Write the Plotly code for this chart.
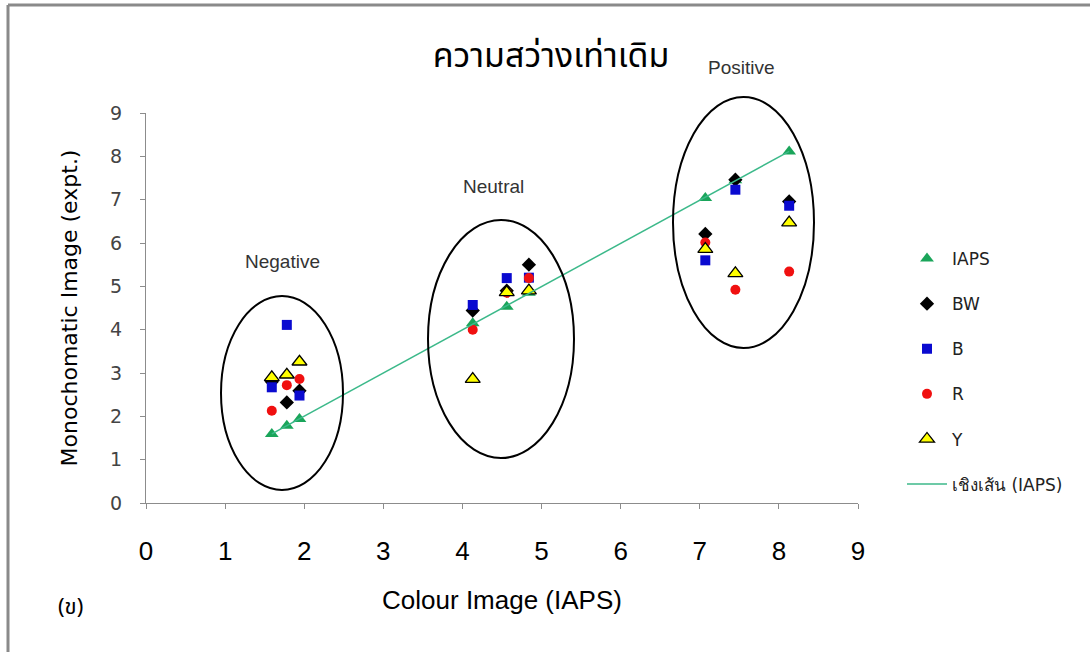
import numpy as np
import plotly.graph_objects as go

# ---- data ----
x_iaps = [1.59, 1.78, 1.94, 4.13, 4.56, 4.84, 7.07, 7.45, 8.13]
y_iaps = [1.59, 1.78, 1.94, 4.15, 4.53, 4.85, 7.04, 7.45, 8.11]
y_bw = [2.80, 2.32, 2.59, 4.44, 4.90, 5.50, 6.21, 7.46, 6.96]
y_b = [2.67, 4.11, 2.48, 4.57, 5.19, 5.20, 5.60, 7.23, 6.86]
y_r = [2.13, 2.72, 2.86, 4.00, 4.85, 5.19, 6.01, 4.92, 5.34]
y_y = [2.90, 2.96, 3.26, 2.86, 4.86, 4.90, 5.86, 5.30, 6.47]
x_ticks = [0, 1, 2, 3, 4, 5, 6, 7, 8, 9]
y_ticks = [0, 1, 2, 3, 4, 5, 6, 7, 8, 9]
group_labels = ["Negative", "Neutral", "Positive"]

W, H = 1091, 652
L, R, T, B = 146, 233, 113, 149
pw, ph = W - L - R, H - T - B


def px(xp):
    return (xp - L) / pw


def py(yp):
    return (H - B - yp) / ph


fig = go.Figure()
legend_font = dict(family="DejaVu Sans", size=17, color="#222")

series = [
    ("IAPS", y_iaps, dict(symbol="triangle-up", size=12, color="#1aa55a")),
    ("BW", y_bw, dict(symbol="diamond", size=11, color="#000000")),
    ("B", y_b, dict(symbol="square", size=10, color="#0a0ad0")),
    ("R", y_r, dict(symbol="circle", size=10, color="#f01010")),
    ("Y", y_y, dict(symbol="triangle-up", size=13, color="#ffff00",
                    line=dict(color="#000000", width=1.3))),
]
for i, (name, ys, mk) in enumerate(series):
    fig.add_trace(go.Scatter(x=x_iaps, y=ys, mode="markers", name=name,
                             marker=mk, legendgroup=f"g{i}"))

# linear trend of IAPS
k, c = np.polyfit(x_iaps, y_iaps, 1)
xl = [min(x_iaps), max(x_iaps)]
fig.add_trace(go.Scatter(x=xl, y=[k * v + c for v in xl], mode="lines",
                         name="เชิงเส้น (IAPS)",
                         line=dict(color="#3cb98a", width=1.5),
                         legendgroup="g9"))

# ellipses (pixel boxes -> paper)
ell = [(221, 296, 343, 490), (428, 220, 574, 458), (673, 97, 814, 348)]
for x0, y0, x1, y1 in ell:
    fig.add_shape(type="circle", xref="paper", yref="paper",
                  x0=px(x0), x1=px(x1), y0=py(y1), y1=py(y0),
                  line=dict(color="#000000", width=2))

# border lines (top and left)
fig.add_shape(type="line", xref="paper", yref="paper", x0=px(8), x1=px(1090),
              y0=py(5), y1=py(5), line=dict(color="#8a8a8a", width=3))
fig.add_shape(type="line", xref="paper", yref="paper", x0=px(8), x1=px(8),
              y0=py(5), y1=py(652), line=dict(color="#8a8a8a", width=3))

lab_pos = [(282, 261), (493, 186), (741, 67)]
for txt, (ax, ay) in zip(group_labels, lab_pos):
    fig.add_annotation(text=txt, xref="paper", yref="paper", x=px(ax), y=py(ay),
                       showarrow=False, xanchor="center", yanchor="middle",
                       font=dict(family="Liberation Sans", size=19, color="#333"))

fig.add_annotation(text="(ข)", xref="paper", yref="paper", x=px(70), y=py(607),
                   showarrow=False, xanchor="center", yanchor="middle",
                   font=dict(family="Noto Sans Thai, Tahoma, DejaVu Sans", size=22, color="#000"))

fig.update_layout(
    width=W, height=H,
    margin=dict(l=L, r=R, t=T, b=B),
    paper_bgcolor="white", plot_bgcolor="white",
    title=dict(text="ความสว่างเท่าเดิม", xref="container", yref="container",
               x=551 / W, y=1 - 55 / H,
               xanchor="center", yanchor="middle",
               font=dict(family="Noto Sans Thai, Tahoma, DejaVu Sans", size=34, color="#000")),
    showlegend=True,
    legend=dict(x=px(902), y=py(241), xanchor="left", yanchor="top",
                traceorder="grouped", tracegroupgap=20, font=legend_font,
                bgcolor="rgba(0,0,0,0)", itemwidth=40),
    xaxis=dict(range=[0, 9], tickvals=x_ticks, showgrid=False, zeroline=False,
               showline=True, linecolor="#8c8c8c", linewidth=1,
               ticks="outside", ticklen=5, tickcolor="#8c8c8c",
               ticklabelstandoff=20,
               tickfont=dict(family="Liberation Sans Narrow, Liberation Sans", size=26, color="#000"),
               title=dict(text="Colour Image (IAPS)", standoff=25,
                          font=dict(family="Liberation Sans Narrow, Liberation Sans", size=26, color="#000"))),
    yaxis=dict(range=[0, 9], tickvals=y_ticks, showgrid=False, zeroline=False,
               showline=True, linecolor="#8c8c8c", linewidth=1,
               ticks="outside", ticklen=5, tickcolor="#8c8c8c",
               ticklabelstandoff=14,
               tickfont=dict(family="DejaVu Sans", size=19, color="#444"),
               title=dict(text="Monochomatic Image (expt.)", standoff=26,
                          font=dict(family="DejaVu Sans", size=22, color="#000"))),
)

fig.write_html("out.html")
